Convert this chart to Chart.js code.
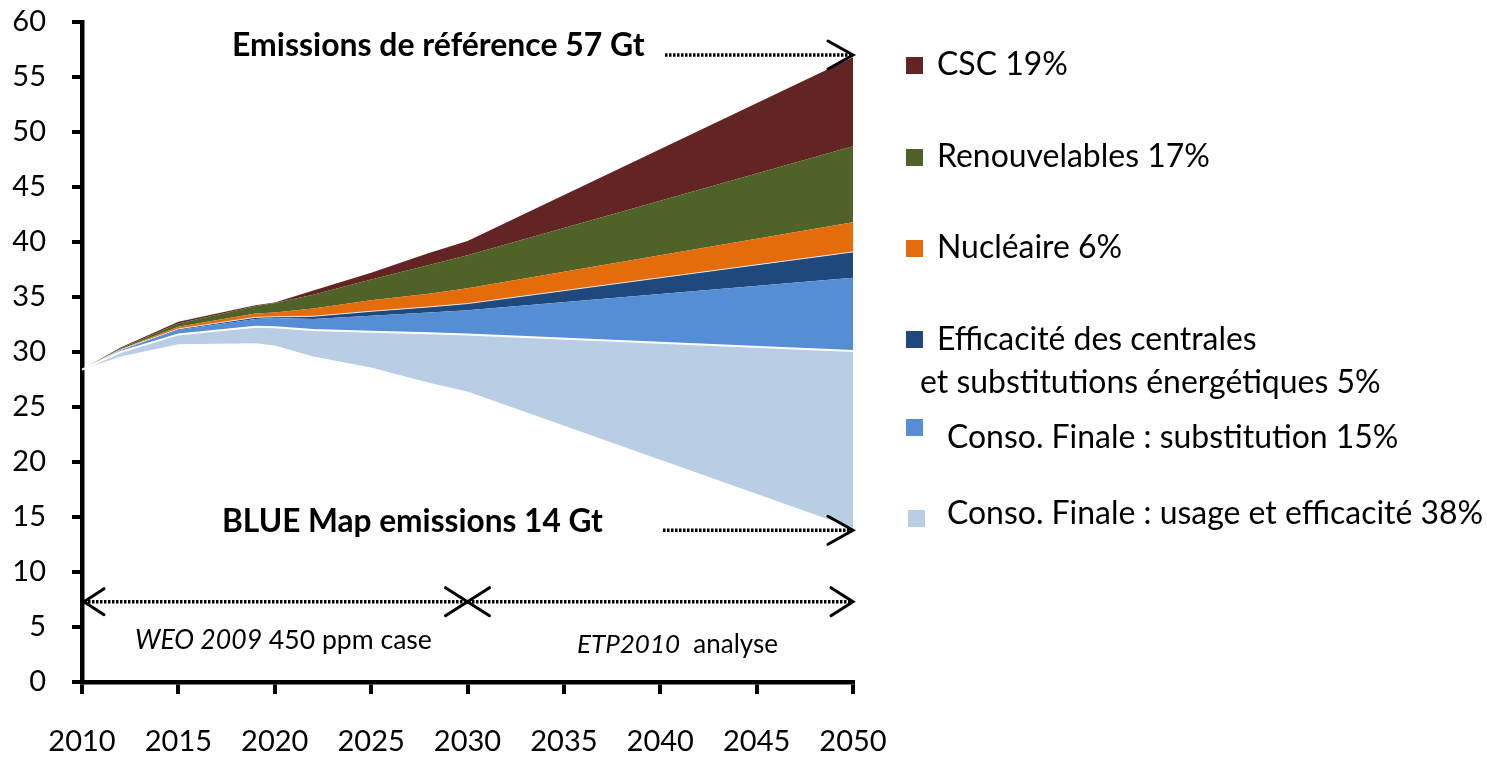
<!DOCTYPE html>
<html><head><meta charset="utf-8">
<script src="https://cdn.jsdelivr.net/npm/chart.js@4.4.1/dist/chart.umd.min.js"></script>
<style>html,body{margin:0;padding:0;background:#fff;overflow:hidden;} #wrap{position:relative;width:1487px;height:757px;}</style>
</head><body><div id="wrap"><canvas id="c" width="1487" height="757"></canvas></div>
<script>
// ---- data (Gt CO2) ----
const years = [2010, 2012, 2015, 2019, 2020, 2022, 2025, 2028, 2030, 2050];
const blueMap          = [28.4, 29.6, 30.7, 30.8, 30.6, 29.6, 28.6, 27.2, 26.4, 14.0];
const usageEfficacite  = [0, 0.40, 0.90, 1.50, 1.65, 2.40, 3.25, 4.50, 5.20, 16.10];
const substitution     = [0, 0.15, 0.40, 0.70, 0.85, 1.00, 1.45, 1.90, 2.20, 6.65];
const centrales        = [0, 0.05, 0.10, 0.15, 0.10, 0.25, 0.40, 0.50, 0.60, 2.35];
const nucleaire        = [0, 0.05, 0.20, 0.35, 0.40, 0.70, 1.00, 1.20, 1.40, 2.70];
const renouvelables    = [0, 0.10, 0.30, 0.65, 0.85, 1.25, 1.90, 2.60, 3.00, 6.90];
const csc              = [0, 0.05, 0.15, 0.10, 0.05, 0.40, 0.60, 1.10, 1.30, 8.10];

const yTickStep = 5, yMin = 0, yMax = 60;
const xTickStep = 5, xMin = 2010, xMax = 2050;

const legendLabels = [
  ['CSC 19%'],
  ['Renouvelables 17%'],
  ['Nucléaire 6%'],
  ['Efficacité des centrales', 'et substitutions énergétiques 5%'],
  ['Conso. Finale : substitution 15%'],
  ['Conso. Finale : usage et efficacité 38%']
];
const refLabel = 'Emissions de référence 57 Gt';
const blueLabel = 'BLUE Map emissions 14 Gt';
const refValue = 57, blueValue = 14, splitYear = 2030, periodArrowValue = 7.3;

const colors = {
  csc: '#632523', ren: '#4F6228', nuc: '#E46C0A', cen: '#1F497D', sub: '#558ED5', use: '#B9CDE5'
};

const pts = arr => years.map((y, i) => ({x: y, y: arr[i]}));

function ds(label, arr, color, extra) {
  return Object.assign({
    label, data: pts(arr), backgroundColor: color, borderColor: 'rgba(0,0,0,0)', borderWidth: 0,
    fill: '-1', pointRadius: 0, pointHoverRadius: 0, tension: 0
  }, extra || {});
}

const datasets = [
  ds('BLUE Map', blueMap, 'rgba(0,0,0,0)', {fill: false}),
  ds(legendLabels[5][0], usageEfficacite, colors.use, {borderColor: '#ffffff', borderWidth: 2}),
  ds(legendLabels[4][0], substitution, colors.sub),
  ds(legendLabels[3].join(' '), centrales, colors.cen, {borderColor: 'rgba(255,255,255,0.8)', borderWidth: 1}),
  ds(legendLabels[2][0], nucleaire, colors.nuc),
  ds(legendLabels[1][0], renouvelables, colors.ren),
  ds(legendLabels[0][0], csc, colors.csc)
];

const FONT = 'Lato';

function fitSize(ctx, parts, target) {
  let w = 0;
  parts.forEach(p => { ctx.font = `${p.style} 100px ${FONT}`; w += ctx.measureText(p.text).width; });
  return 100 * target / w;
}
function drawParts(ctx, parts, x, y, size) {
  ctx.textBaseline = 'middle'; ctx.textAlign = 'left'; ctx.fillStyle = '#000';
  parts.forEach(p => {
    ctx.font = `${p.style} ${size}px ${FONT}`;
    ctx.fillText(p.text, x, y);
    x += ctx.measureText(p.text).width;
  });
}
function dotted(ctx, x1, x2, y) {
  ctx.save(); ctx.strokeStyle = '#000'; ctx.lineWidth = 3.5; ctx.setLineDash([2.5, 1.5]);
  ctx.beginPath(); ctx.moveTo(x1, y); ctx.lineTo(x2, y); ctx.stroke(); ctx.restore();
}
function head(ctx, x, y, dir, dx, dy) {
  ctx.save(); ctx.strokeStyle = '#000'; ctx.lineWidth = 3; ctx.lineCap = 'round'; ctx.lineJoin = 'miter';
  ctx.beginPath(); ctx.moveTo(x - dir * dx, y - dy); ctx.lineTo(x, y); ctx.lineTo(x - dir * dx, y + dy); ctx.stroke(); ctx.restore();
}

const annot = {
  id: 'annot',
  afterDraw(chart) {
    const ctx = chart.ctx, xs = chart.scales.x, ys = chart.scales.y;
    // legend
    const legendColors = [colors.csc, colors.ren, colors.nuc, colors.cen, colors.sub, colors.use];
    const legendPos = [
      {sq: [906, 57], tx: 937, ty: [65]},
      {sq: [906, 149], tx: 937, ty: [157]},
      {sq: [906, 240], tx: 937, ty: [248]},
      {sq: [906, 331], tx: 937, ty: [340], tx2: 920, ty2: 383},
      {sq: [906, 419], tx: 947, ty: [438]},
      {sq: [908, 510], tx: 947, ty: [514]}
    ];
    const lsize = fitSize(ctx, [{style: 'normal', text: legendLabels[1][0]}], 273);
    legendLabels.forEach((lines, i) => {
      const p = legendPos[i];
      ctx.fillStyle = legendColors[i];
      ctx.fillRect(p.sq[0], p.sq[1], 17, 17);
      drawParts(ctx, [{style: 'normal', text: lines[0]}], p.tx, p.ty[0], lsize);
      if (lines[1]) drawParts(ctx, [{style: 'normal', text: lines[1]}], p.tx2, p.ty2, lsize);
    });
    // annotations
    const r = [{style: 'bold', text: refLabel}];
    drawParts(ctx, r, 232, 46, fitSize(ctx, r, 413));
    const b = [{style: 'bold', text: blueLabel}];
    drawParts(ctx, b, 222, 522, fitSize(ctx, b, 381));
    const w = [{style: 'italic', text: 'WEO 2009'}, {style: 'normal', text: ' 450 ppm case'}];
    drawParts(ctx, w, 135, 640, fitSize(ctx, w, 297));
    const e = [{style: 'italic', text: 'ETP2010'}, {style: 'normal', text: '  analyse'}];
    drawParts(ctx, e, 577, 645, fitSize(ctx, e, 201));

    const x50 = xs.getPixelForValue(xMax), x10 = xs.getPixelForValue(xMin), x30 = xs.getPixelForValue(splitYear);
    // reference arrow
    const yr = ys.getPixelForValue(refValue);
    dotted(ctx, 665, x50 - 2, yr); head(ctx, x50, yr, 1, 25, 14);
    const yb = ys.getPixelForValue(blueValue - 0.2);
    dotted(ctx, 663, x50 - 2, yb); head(ctx, x50, yb, 1, 25, 14);
    // period arrows
    const yp = ys.getPixelForValue(periodArrowValue);
    dotted(ctx, x10 + 2, x50 - 2, yp);
    head(ctx, x10 + 2, yp, -1, 20, 13);
    head(ctx, x30, yp, 1, 22, 14);
    head(ctx, x30, yp, -1, 22, 14);
    head(ctx, x50, yp, 1, 22, 14);
  }
};

new Chart(document.getElementById('c'), {
  type: 'line',
  data: {datasets},
  options: {
    responsive: false, animation: false, devicePixelRatio: 1,
    layout: {padding: {top: 22, right: 1487 - 853, left: 0, bottom: 0}},
    plugins: {legend: {display: false}, tooltip: {enabled: false}, filler: {propagate: false}},
    elements: {line: {borderJoinStyle: 'miter'}},
    scales: {
      x: {
        type: 'linear', min: xMin, max: xMax,
        ticks: {stepSize: xTickStep, callback: v => String(v), color: '#000', font: {family: FONT, size: 29}, padding: 30, maxRotation: 0},
        grid: {drawOnChartArea: false, drawTicks: true, tickLength: 12, color: '#000', lineWidth: 4},
        border: {display: true, color: '#000', width: 4.5},
        afterFit(s) { s.height = 75; s.paddingLeft = 0; s.paddingRight = 0; }
      },
      y: {
        stacked: true, min: yMin, max: yMax,
        ticks: {stepSize: yTickStep, color: '#000', font: {family: FONT, size: 29}, padding: 26},
        grid: {drawOnChartArea: false, drawTicks: true, tickLength: 10, color: '#000', lineWidth: 4},
        border: {display: true, color: '#000', width: 4.5},
        afterFit(s) { s.width = 82; s.paddingTop = 0; s.paddingBottom = 0; }
      }
    }
  },
  plugins: [annot]
});
</script>
</body></html>
